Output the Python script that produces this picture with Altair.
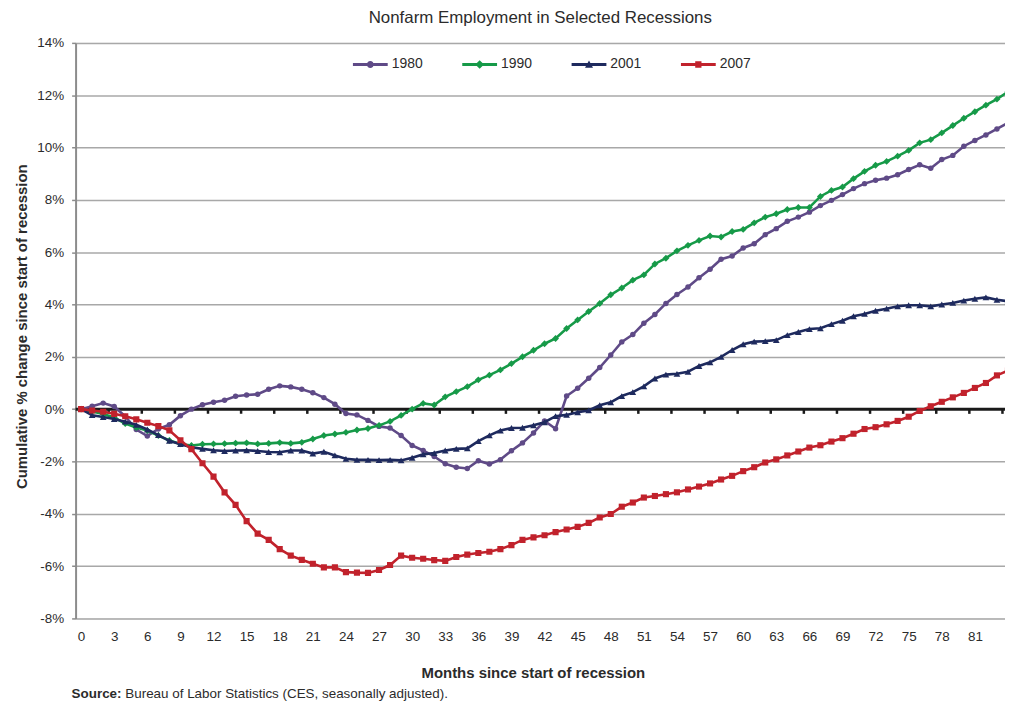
import altair as alt
import pandas as pd

# ---------------- data ----------------
months = list(range(85))

s1980 = [0.00, 0.11, 0.23, 0.10, -0.28, -0.78, -1.03, -0.76, -0.60, -0.25,
         0.00, 0.17, 0.26, 0.34, 0.49, 0.54, 0.57, 0.76, 0.89, 0.85,
         0.76, 0.63, 0.44, 0.19, -0.17, -0.22, -0.43, -0.66, -0.72, -1.01,
         -1.39, -1.58, -1.81, -2.09, -2.22, -2.27, -1.97, -2.10, -1.93, -1.59,
         -1.29, -0.91, -0.45, -0.75, 0.50, 0.80, 1.18, 1.59, 2.07, 2.57,
         2.85, 3.28, 3.62, 4.04, 4.38, 4.67, 5.02, 5.35, 5.73, 5.85,
         6.16, 6.32, 6.67, 6.90, 7.18, 7.34, 7.53, 7.78, 7.98, 8.20,
         8.43, 8.62, 8.75, 8.83, 8.96, 9.16, 9.34, 9.21, 9.54, 9.70,
         10.05, 10.27, 10.48, 10.71, 10.94]

s1990 = [0.00, -0.09, -0.19, -0.32, -0.55, -0.70, -0.82, -1.01, -1.20, -1.33,
         -1.39, -1.34, -1.33, -1.32, -1.30, -1.29, -1.33, -1.31, -1.28, -1.31,
         -1.27, -1.14, -1.01, -0.95, -0.89, -0.80, -0.74, -0.62, -0.47, -0.24,
         0.00, 0.22, 0.16, 0.47, 0.67, 0.86, 1.12, 1.30, 1.50, 1.74,
         2.00, 2.25, 2.50, 2.70, 3.08, 3.41, 3.73, 4.04, 4.37, 4.63,
         4.93, 5.13, 5.55, 5.77, 6.05, 6.26, 6.45, 6.62, 6.58, 6.79,
         6.87, 7.12, 7.34, 7.47, 7.63, 7.71, 7.71, 8.13, 8.36, 8.49,
         8.81, 9.09, 9.32, 9.47, 9.67, 9.89, 10.18, 10.30, 10.56, 10.84,
         11.12, 11.37, 11.62, 11.85, 12.13]

s2001 = [0.00, -0.23, -0.30, -0.38, -0.48, -0.60, -0.78, -0.99, -1.21, -1.34,
         -1.46, -1.52, -1.57, -1.60, -1.58, -1.57, -1.60, -1.64, -1.65, -1.58,
         -1.58, -1.70, -1.63, -1.77, -1.90, -1.94, -1.94, -1.95, -1.94, -1.96,
         -1.86, -1.73, -1.68, -1.58, -1.52, -1.50, -1.22, -1.00, -0.82, -0.72,
         -0.71, -0.62, -0.50, -0.27, -0.22, -0.12, -0.05, 0.15, 0.26, 0.50,
         0.65, 0.87, 1.17, 1.32, 1.35, 1.43, 1.65, 1.79, 2.00, 2.26,
         2.48, 2.58, 2.60, 2.64, 2.83, 2.95, 3.06, 3.09, 3.25, 3.38,
         3.55, 3.64, 3.76, 3.84, 3.93, 3.97, 3.97, 3.93, 4.00, 4.06,
         4.15, 4.22, 4.27, 4.18, 4.12]

s2007 = [0.00, -0.05, -0.10, -0.18, -0.27, -0.39, -0.52, -0.65, -0.81, -1.19,
         -1.53, -2.07, -2.58, -3.18, -3.66, -4.28, -4.76, -5.00, -5.35, -5.60,
         -5.76, -5.91, -6.05, -6.05, -6.23, -6.25, -6.26, -6.15, -5.96, -5.60,
         -5.68, -5.72, -5.77, -5.80, -5.65, -5.56, -5.50, -5.45, -5.35, -5.20,
         -5.00, -4.90, -4.82, -4.70, -4.60, -4.50, -4.35, -4.14, -4.01, -3.73,
         -3.57, -3.38, -3.32, -3.25, -3.18, -3.07, -2.96, -2.84, -2.69, -2.55,
         -2.37, -2.22, -2.04, -1.92, -1.77, -1.62, -1.47, -1.38, -1.24, -1.11,
         -0.94, -0.76, -0.69, -0.58, -0.45, -0.29, -0.07, 0.11, 0.28, 0.45,
         0.62, 0.81, 1.00, 1.29, 1.47]

series_names = ["1980", "1990", "2001", "2007"]
series_values = [s1980, s1990, s2001, s2007]
series_colors = ["#5F4A87", "#169A48", "#1E2A5E", "#C1222C"]
marker_shapes = ["circle", "diamond", "triangle-up", "square"]
marker_sizes = [30, 48, 46, 38]

y_ticks = list(range(-8, 15, 2))
x_ticks = list(range(0, 84, 3))
x_tick_marks = [m + 2.5 for m in range(0, 84, 3)]

title_text = "Nonfarm Employment in Selected Recessions"
x_title = "Months since start of recession"
y_title = "Cumulative % change since start of recession"
source_bold = ["Source:"]
source_rest = ["Bureau of Labor Statistics (CES, seasonally adjusted)."]

# legend symbols: a short line with the series marker in its middle
LINE = "M-1,-0.086H1V0.086H-1Z "
legend_paths = [
    LINE + "M-0.2,0A0.2,0.2 0 1,1 0.2,0A0.2,0.2 0 1,1 -0.2,0Z",
    LINE + "M0,-0.25L0.25,0L0,0.25L-0.25,0Z",
    LINE + "M0,-0.23L0.23,0.18L-0.23,0.18Z",
    LINE + "M-0.18,-0.18H0.18V0.18H-0.18Z",
]

# ---------------- tables ----------------
rows = []
for name, vals in zip(series_names, series_values):
    for m, v in zip(months, vals):
        rows.append({"month": m, "value": v, "series": name})
df = pd.DataFrame(rows)

FONT = "Liberation Sans, Arial, sans-serif"
TEXT = "#2b2b2b"

xscale = alt.Scale(domain=[-0.5, 83.73], nice=False, zero=False)
yscale = alt.Scale(domain=[-8, 14], nice=False, zero=False)
cscale = alt.Scale(domain=series_names, range=series_colors)

y_axis = alt.Axis(values=y_ticks, labelExpr="datum.value + '%'", title=y_title,
                  titleX=-54, titleY=285, titleAngle=-90, titleBaseline="middle",
                  titleAlign="center", titleFontSize=15, titleFontWeight="bold",
                  titleFont=FONT, titleColor=TEXT,
                  labelFont=FONT, labelFontSize=13.5, labelColor=TEXT, labelPadding=8,
                  tickSize=4, tickColor="#8C8C8C", tickWidth=1.5,
                  domainColor="#8C8C8C", domainWidth=2,
                  grid=True, gridColor="#A8A8A8", gridWidth=1.5)

x_axis = alt.Axis(values=x_ticks, grid=False, domain=False, ticks=False,
                  labelFont=FONT, labelFontSize=13.5, labelColor=TEXT,
                  labelPadding=11, labelFlush=False,
                  title=x_title, titleX=460, titleY=54, titleBaseline="middle",
                  titleAlign="center", titleFontSize=15, titleFontWeight="bold",
                  titleFont=FONT, titleColor=TEXT)

legend_def = alt.Legend(orient="none", legendX=279, legendY=4, direction="horizontal",
                        columns=4, title=None, symbolSize=1225, symbolStrokeWidth=0,
                        symbolOpacity=1, labelFont=FONT, labelFontSize=14,
                        labelColor=TEXT, labelOffset=4, columnPadding=39, padding=0)


def xenc(field):
    return alt.X(field, scale=xscale, axis=x_axis)


def yenc(field):
    return alt.Y(field, scale=yscale, axis=y_axis)


base = alt.Chart(df)

legend_layer = base.transform_filter("datum.month < 0").mark_point(
    filled=True, opacity=1).encode(
    x=xenc("month:Q"),
    y=yenc("value:Q"),
    color=alt.Color("series:N", scale=cscale, legend=legend_def),
    shape=alt.Shape("series:N",
                    scale=alt.Scale(domain=series_names, range=legend_paths),
                    legend=legend_def),
)

zero_line = alt.Chart(pd.DataFrame({"z": [0]})).mark_rule(
    color="#1a1a1a", strokeWidth=3).encode(y=yenc("z:Q"))

tick_marks = alt.Chart(pd.DataFrame({"t": x_tick_marks})).mark_rule(
    color="#1a1a1a", strokeWidth=2.5, clip=True).encode(
    x=xenc("t:Q"),
    y=alt.Y(datum=0, scale=yscale, axis=y_axis),
    y2=alt.Y2(datum=-0.18))

layers = [legend_layer, zero_line, tick_marks]
for name, shape, size in zip(series_names, marker_shapes, marker_sizes):
    sub = base.transform_filter(alt.datum.series == name)
    enc = dict(
        x=xenc("month:Q"),
        y=yenc("value:Q"),
        color=alt.Color("series:N", scale=cscale, legend=None),
    )
    layers.append(sub.mark_line(strokeWidth=2.6, clip=True).encode(**enc))
    layers.append(sub.mark_point(filled=True, shape=shape, size=size, opacity=1,
                                 clip=True).encode(**enc))

src1 = alt.Chart(pd.DataFrame({"t": source_bold})).mark_text(
    align="left", baseline="middle", font=FONT, fontSize=13.5, fontWeight="bold",
    color=TEXT).encode(text="t:N", x=alt.value(-4), y=alt.value(655))
src2 = alt.Chart(pd.DataFrame({"t": source_rest})).mark_text(
    align="left", baseline="middle", font=FONT, fontSize=13.5, color=TEXT).encode(
    text="t:N", x=alt.value(50), y=alt.value(655))
layers += [src1, src2]

chart = alt.layer(*layers).properties(
    width=935, height=579,
    title=alt.TitleParams(title_text, font=FONT, fontSize=17, fontWeight="normal",
                          color=TEXT, anchor="middle", frame="group", offset=9),
    autosize=alt.AutoSizeParams(type="none"),
    padding={"left": 68, "top": 33, "right": 0, "bottom": 84},
).configure_view(strokeWidth=0).configure(background="white")

chart.save("out.html", embed_options={"renderer": "svg", "actions": False})
